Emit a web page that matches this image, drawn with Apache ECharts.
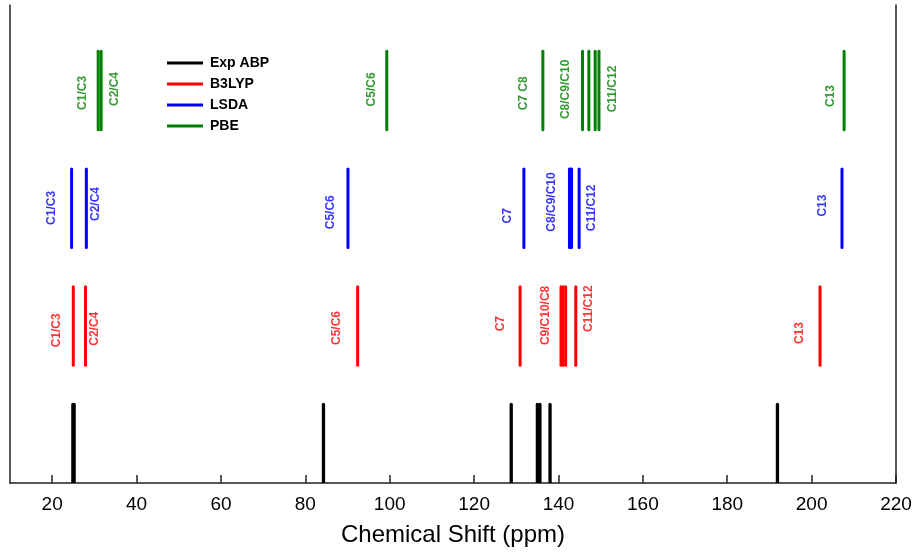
<!DOCTYPE html>
<html><head><meta charset="utf-8">
<script src="https://cdn.jsdelivr.net/npm/echarts@6/dist/echarts.min.js"></script>
<style>html,body{margin:0;padding:0;background:#fff}#c{width:915px;height:552px}</style>
</head><body><div id="c"></div>
<script>
// ---- data (ppm) ----
const seriesNames = ['Exp ABP', 'B3LYP', 'LSDA', 'PBE'];
const expShifts   = [24.9, 25.2, 84.3, 128.8, 135.0, 135.6, 138.0, 191.9];
const b3lypShifts = [25.0, 27.9, 92.4, 130.9, 140.6, 141.1, 141.7, 144.1, 202.0];
const lsdaShifts  = [24.6, 28.1, 90.1, 131.8, 142.6, 142.85, 143.1, 144.9, 207.2];
const pbeShifts   = [30.9, 31.6, 99.3, 136.3, 145.7, 147.2, 148.7, 149.6, 207.7];
// stick levels (y range, arbitrary units)
const expLevel = [0, 2], b3lypLevel = [3, 5], lsdaLevel = [6, 8], pbeLevel = [9, 11];
// labels
const b3lypLabels = ['C1/C3', 'C2/C4', 'C5/C6', 'C7', 'C9/C10/C8', 'C11/C12', 'C13'];
const b3lypLabelX = [21.1, 30.15, 87.4, 126.4, 136.9, 147.2, 197.2];
const b3lypLabelY = [3.89, 3.93, 3.95, 4.06, 4.27, 4.44, 3.82];
const lsdaLabels  = ['C1/C3', 'C2/C4', 'C5/C6', 'C7', 'C8/C9/C10', 'C11/C12', 'C13'];
const lsdaLabelX  = [19.8, 30.2, 86.1, 127.85, 138.3, 147.8, 202.7];
const lsdaLabelY  = [7.01, 7.11, 6.90, 6.81, 7.16, 7.01, 7.07];
const pbeLabels   = ['C1/C3', 'C2/C4', 'C5/C6', 'C7 C8', 'C8/C9/C10', 'C11/C12', 'C13'];
const pbeLabelX   = [27.3, 34.9, 95.8, 131.7, 141.8, 152.8, 204.6];
const pbeLabelY   = [9.94, 10.04, 10.03, 9.93, 10.03, 10.04, 9.86];
const xTicks = [20, 40, 60, 80, 100, 120, 140, 160, 180, 200, 220];

const FONT = 'Liberation Sans, Arial, sans-serif';
const colors = ['#000000', '#ff0000', '#0000ff', '#008000'];

function stickSeries(name, color, shifts, range, width) {
  return {
    type: 'custom', name: name, clip: true,
    data: shifts.map(s => [s, range[0], range[1]]),
    encode: { x: 0, y: [1, 2] },
    itemStyle: { color: color },
    renderItem: function (params, api) {
      const p0 = api.coord([api.value(0), api.value(1)]);
      const p1 = api.coord([api.value(0), api.value(2)]);
      return { type: 'line', shape: { x1: p0[0], y1: p0[1], x2: p1[0], y2: p1[1] },
        style: { stroke: color, lineWidth: width, lineCap: 'round' } };
    }
  };
}
function labelSeries(color, labels, xs, ys) {
  return {
    type: 'scatter', silent: true, symbolSize: 1,
    itemStyle: { color: 'rgba(0,0,0,0)' },
    data: xs.map((x, i) => [x, ys[i], labels[i]]),
    label: { show: true, position: 'inside', rotate: 90, formatter: p => p.value[2],
      color: color, fontWeight: 'bold', fontSize: 12, fontFamily: FONT },
    emphasis: { disabled: true }
  };
}

const chart = echarts.init(document.getElementById('c'), null, { renderer: 'canvas' });
chart.setOption({
  animation: false,
  backgroundColor: '#fff',
  grid: { left: 10, right: 19, top: 5, bottom: 66, containLabel: false },
  xAxis: {
    type: 'value', min: 10, max: 220, interval: 20,
    axisLine: { show: true, lineStyle: { color: '#222', width: 1.5 } },
    axisTick: { show: true, inside: true, length: 8, lineStyle: { color: '#222', width: 1.5 },
      customValues: xTicks },
    axisLabel: { color: '#000', fontSize: 19, fontFamily: FONT, margin: 12, customValues: xTicks },
    splitLine: { show: false },
    name: 'Chemical Shift (ppm)', nameLocation: 'middle', nameGap: 40,
    nameTextStyle: { color: '#000', fontSize: 24, fontFamily: FONT }
  },
  yAxis: [
    { type: 'value', min: 0, max: 12.18, position: 'left',
      axisLine: { show: true, lineStyle: { color: '#222', width: 1.5 } },
      axisTick: { show: false }, axisLabel: { show: false }, splitLine: { show: false } },
    { type: 'value', min: 0, max: 12.18, position: 'right',
      axisLine: { show: true, lineStyle: { color: '#222', width: 1.5 } },
      axisTick: { show: false }, axisLabel: { show: false }, splitLine: { show: false } }
  ],
  legend: {
    data: seriesNames, orient: 'vertical', left: 167, top: 55, padding: 0,
    itemWidth: 36, itemHeight: 3, icon: 'rect', itemGap: 5,
    textStyle: { fontSize: 14, fontWeight: 'bold', color: '#000', fontFamily: FONT, lineHeight: 16, padding: [0, 0, 0, 2] },
    selectedMode: false
  },
  series: [
    stickSeries(seriesNames[0], colors[0], expShifts, expLevel, 3.3),
    stickSeries(seriesNames[1], colors[1], b3lypShifts, b3lypLevel, 3),
    stickSeries(seriesNames[2], colors[2], lsdaShifts, lsdaLevel, 3),
    stickSeries(seriesNames[3], colors[3], pbeShifts, pbeLevel, 3),
    labelSeries(colors[1], b3lypLabels, b3lypLabelX, b3lypLabelY),
    labelSeries(colors[2], lsdaLabels, lsdaLabelX, lsdaLabelY),
    labelSeries(colors[3], pbeLabels, pbeLabelX, pbeLabelY)
  ]
});
</script></body></html>
